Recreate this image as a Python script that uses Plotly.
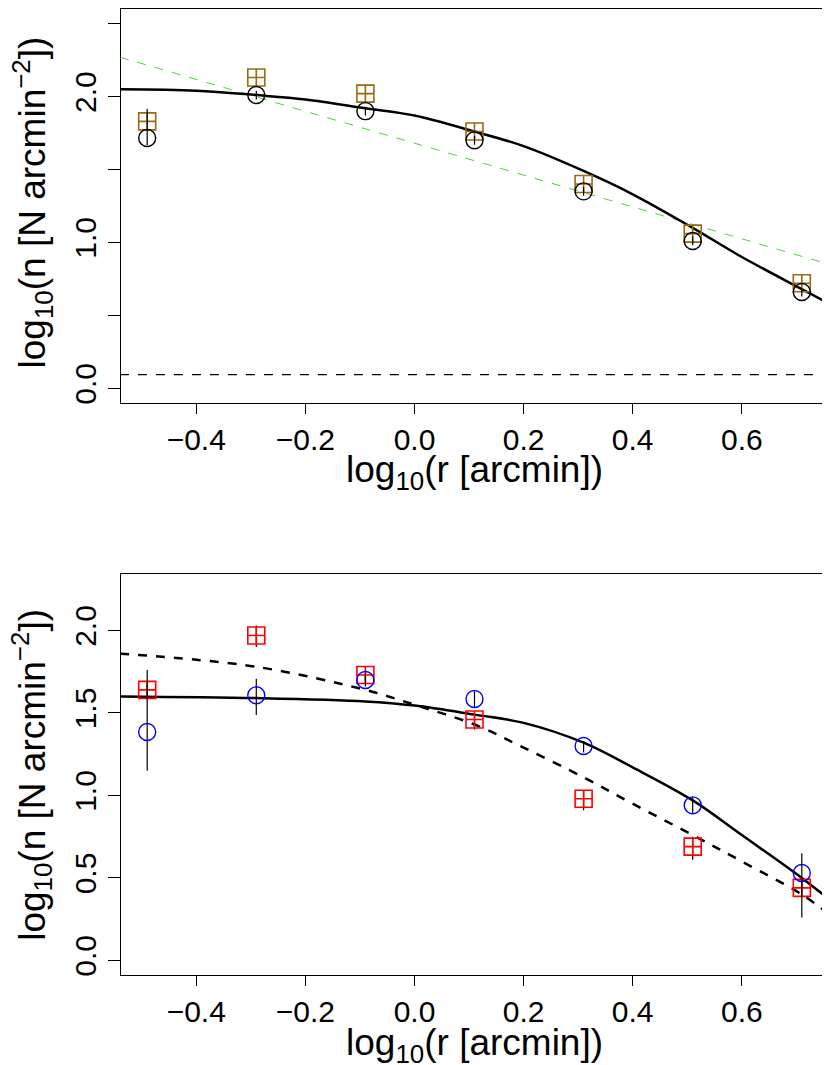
import plotly.graph_objects as go

# radial bins, log10(r [arcmin])
log_r = [-0.49, -0.29, -0.09, 0.11, 0.31, 0.51, 0.71]

# top panel
top_circ = [1.716, 2.01, 1.90, 1.70, 1.35, 1.01, 0.66]
top_circ_up = [0.20, 0.03, 0.03, 0.03, 0.03, 0.03, 0.03]
top_circ_dn = [0.05, 0.03, 0.03, 0.03, 0.03, 0.03, 0.03]
top_sq = [1.83, 2.13, 2.02, 1.76, 1.40, 1.06, 0.72]
top_fit_x = [-0.54, -0.4, -0.29, -0.2, -0.09, 0.0, 0.11, 0.2, 0.31, 0.4, 0.51, 0.6, 0.71, 0.76]
top_fit_y = [2.05, 2.04, 2.01, 1.98, 1.92, 1.87, 1.76, 1.66, 1.49, 1.33, 1.10, 0.90, 0.68, 0.58]
top_pl_x = [-0.54, 0.76]
top_pl_y = [2.27, 0.85]
top_bg = 0.094

# bottom panel
bot_circ = [1.385, 1.607, 1.70, 1.585, 1.30, 0.94, 0.53]
bot_circ_up = [0.375, 0.10, 0.04, 0.05, 0.03, 0.05, 0.12]
bot_circ_dn = [0.235, 0.12, 0.04, 0.05, 0.04, 0.05, 0.27]
bot_sq = [1.64, 1.97, 1.73, 1.46, 0.98, 0.69, 0.44]
bot_sq_up = [0.03, 0.06, 0.03, 0.04, 0.05, 0.06, 0.03]
bot_sq_dn = [0.03, 0.07, 0.03, 0.06, 0.07, 0.08, 0.03]
bot_fit_x = [-0.54, -0.29, -0.09, 0.0, 0.11, 0.2, 0.31, 0.4, 0.51, 0.6, 0.71, 0.76]
bot_fit_y = [1.60, 1.59, 1.57, 1.545, 1.49, 1.44, 1.32, 1.17, 0.97, 0.76, 0.50, 0.37]
bot_fit2_y = [1.86, 1.78, 1.64, 1.55, 1.43, 1.29, 1.11, 0.95, 0.76, 0.60, 0.40, 0.28]

W, H = 830, 1065
OFF = 8  # page margin around the figure
FONT = "Liberation Sans"


def px(x):
    return (x - OFF) / W


def py(y):
    return min(1.0, max(0.0, 1 - (y - OFF) / H))


fig = go.Figure()


def err(up, dn):
    return dict(type="data", array=up, arrayminus=dn, color="black", thickness=1.2, width=0)


# top
fig.add_trace(go.Scatter(x=top_pl_x, y=top_pl_y, mode="lines",
                         line=dict(color="#55cc44", width=1, dash="dash"), xaxis="x", yaxis="y"))
fig.add_trace(go.Scatter(x=top_pl_x, y=[top_bg, top_bg], mode="lines",
                         line=dict(color="black", width=1.2, dash="dash"), xaxis="x", yaxis="y"))
fig.add_trace(go.Scatter(x=top_fit_x, y=top_fit_y, mode="lines", line_shape="spline",
                         line=dict(color="black", width=2.5), xaxis="x", yaxis="y"))
fig.add_trace(go.Scatter(x=log_r, y=top_sq, mode="markers",
                         marker=dict(symbol="square-cross-open", size=17, color="#9a6a10", line=dict(width=1.6)),
                         xaxis="x", yaxis="y"))
fig.add_trace(go.Scatter(x=log_r, y=top_circ, mode="markers", error_y=err(top_circ_up, top_circ_dn),
                         marker=dict(symbol="circle-open", size=17, color="black", line=dict(width=1.4)),
                         xaxis="x", yaxis="y"))

# bottom
fig.add_trace(go.Scatter(x=bot_fit_x, y=bot_fit2_y, mode="lines", line_shape="spline",
                         line=dict(color="black", width=2.5, dash="dash"), xaxis="x2", yaxis="y2"))
fig.add_trace(go.Scatter(x=bot_fit_x, y=bot_fit_y, mode="lines", line_shape="spline",
                         line=dict(color="black", width=2.5), xaxis="x2", yaxis="y2"))
fig.add_trace(go.Scatter(x=log_r, y=bot_sq, mode="markers", error_y=err(bot_sq_up, bot_sq_dn),
                         marker=dict(symbol="square-cross-open", size=17, color="red", line=dict(width=1.6)),
                         xaxis="x2", yaxis="y2"))
fig.add_trace(go.Scatter(x=log_r, y=bot_circ, mode="markers", error_y=err(bot_circ_up, bot_circ_dn),
                         marker=dict(symbol="circle-open", size=17, color="blue", line=dict(width=1.4)),
                         xaxis="x2", yaxis="y2"))

xdom = [px(121), px(828)]
top_dom = [py(403), py(1)]
bot_dom = [py(977), py(575)]

xax = dict(domain=xdom, range=[-0.538, 0.758], tickvals=[-0.4, -0.2, 0.0, 0.2, 0.4, 0.6],
           ticktext=["\u22120.4", "\u22120.2", "0.0", "0.2", "0.4", "0.6"],
           ticks="outside", ticklen=10, tickwidth=1, tickcolor="black", showline=True, linecolor="black",
           linewidth=1.2, mirror=True, showgrid=False, zeroline=False,
           tickfont=dict(size=30, color="black", family=FONT))
yax = dict(ticks="outside", ticklen=12, tickwidth=1, tickcolor="black", showline=True, linecolor="black",
           linewidth=1.2, mirror=True, showgrid=False, zeroline=False, tickangle=-90,
           tickfont=dict(size=30, color="black", family=FONT))

fig.update_layout(
    width=W, height=H, margin=dict(l=0, r=0, t=0, b=0),
    plot_bgcolor="white", paper_bgcolor="white", showlegend=False,
    xaxis=dict(xax, anchor="y"),
    yaxis=dict(yax, domain=top_dom, anchor="x", range=[-0.1, 2.6],
               tickvals=[0, 0.5, 1, 1.5, 2, 2.5], ticktext=["0.0", "", "1.0", "", "2.0", ""]),
    xaxis2=dict(xax, anchor="y2"),
    yaxis2=dict(yax, domain=bot_dom, anchor="x2", range=[-0.09, 2.34],
                tickvals=[0, 0.5, 1, 1.5, 2], ticktext=["0.0", "0.5", "1.0", "1.5", "2.0"]),
)

ytitle = "log<sub>10</sub>(n [N arcmin<sup>\u22122</sup>])"
xtitle = "log<sub>10</sub>(r [arcmin])"
for yc, xc in [(202, 472), (776, 1047)]:
    fig.add_annotation(text=ytitle, x=px(32), y=py(yc), xref="paper", yref="paper", textangle=-90,
                       xanchor="center", yanchor="middle",
                       showarrow=False, font=dict(size=37, color="black", family=FONT))
    fig.add_annotation(text=xtitle, x=px(474), y=py(xc), xref="paper", yref="paper",
                       xanchor="center", yanchor="middle",
                       showarrow=False, font=dict(size=37, color="black", family=FONT))

fig.write_html("out.html")
